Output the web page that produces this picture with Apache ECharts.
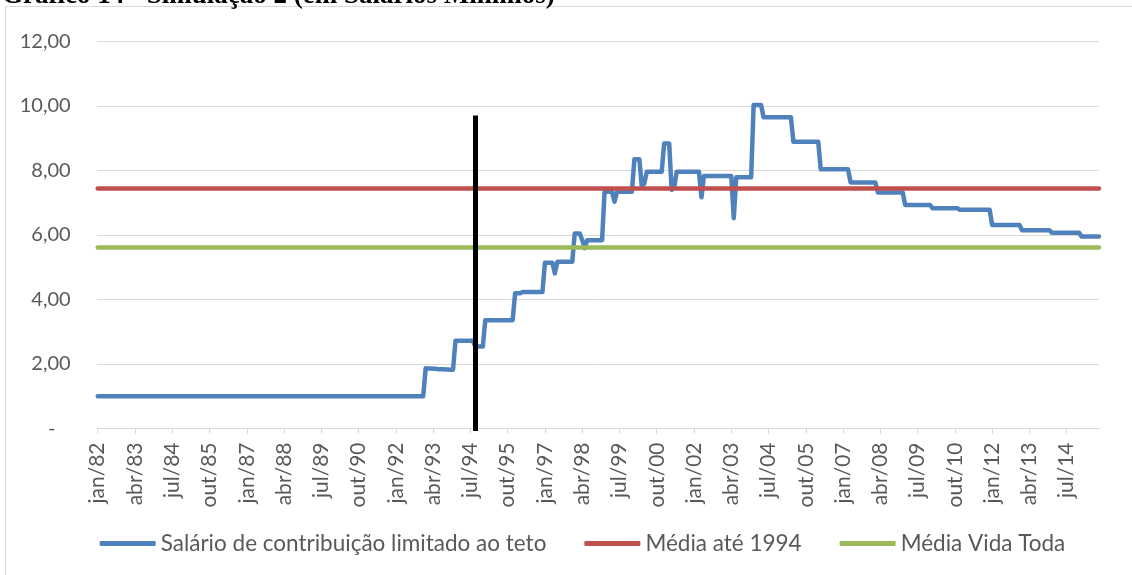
<!DOCTYPE html>
<html>
<head>
<meta charset="utf-8">
<title>Simulação 2</title>
<script src="https://cdn.jsdelivr.net/npm/echarts@6/dist/echarts.min.js"></script>
<style>
  html, body { margin: 0; padding: 0; background: #fff; }
  #chart { width: 1132px; height: 575px; }
</style>
</head>
<body>
<div id="chart"></div>
<script>
// meses jan/82 .. ago/15
const mesesNomes = ["jan", "fev", "mar", "abr", "mai", "jun", "jul", "ago", "set", "out", "nov", "dez"];
const anoInicio = 1982;
const anoFim = 2015;
const ultimoMesFim = 8;

// salário de contribuição limitado ao teto (em salários mínimos), um ano por linha
const s1982 = [1.00, 1.00, 1.00, 1.00, 1.00, 1.00, 1.00, 1.00, 1.00, 1.00, 1.00, 1.00];
const s1983 = [1.00, 1.00, 1.00, 1.00, 1.00, 1.00, 1.00, 1.00, 1.00, 1.00, 1.00, 1.00];
const s1984 = [1.00, 1.00, 1.00, 1.00, 1.00, 1.00, 1.00, 1.00, 1.00, 1.00, 1.00, 1.00];
const s1985 = [1.00, 1.00, 1.00, 1.00, 1.00, 1.00, 1.00, 1.00, 1.00, 1.00, 1.00, 1.00];
const s1986 = [1.00, 1.00, 1.00, 1.00, 1.00, 1.00, 1.00, 1.00, 1.00, 1.00, 1.00, 1.00];
const s1987 = [1.00, 1.00, 1.00, 1.00, 1.00, 1.00, 1.00, 1.00, 1.00, 1.00, 1.00, 1.00];
const s1988 = [1.00, 1.00, 1.00, 1.00, 1.00, 1.00, 1.00, 1.00, 1.00, 1.00, 1.00, 1.00];
const s1989 = [1.00, 1.00, 1.00, 1.00, 1.00, 1.00, 1.00, 1.00, 1.00, 1.00, 1.00, 1.00];
const s1990 = [1.00, 1.00, 1.00, 1.00, 1.00, 1.00, 1.00, 1.00, 1.00, 1.00, 1.00, 1.00];
const s1991 = [1.00, 1.00, 1.00, 1.00, 1.00, 1.00, 1.00, 1.00, 1.00, 1.00, 1.00, 1.00];
const s1992 = [1.00, 1.00, 1.00, 1.00, 1.00, 1.00, 1.00, 1.00, 1.00, 1.00, 1.00, 1.00];
const s1993 = [1.87, 1.86, 1.86, 1.85, 1.85, 1.84, 1.84, 1.84, 1.83, 1.83, 1.82, 1.82];
const s1994 = [2.72, 2.72, 2.72, 2.72, 2.72, 2.72, 2.72, 2.72, 2.54, 2.54, 2.54, 2.54];
const s1995 = [3.36, 3.36, 3.36, 3.36, 3.36, 3.36, 3.36, 3.36, 3.36, 3.36, 3.36, 3.36];
const s1996 = [4.19, 4.19, 4.19, 4.23, 4.23, 4.23, 4.23, 4.23, 4.23, 4.23, 4.23, 4.23];
const s1997 = [5.14, 5.14, 5.14, 5.14, 4.81, 5.17, 5.17, 5.17, 5.17, 5.17, 5.17, 5.17];
const s1998 = [6.05, 6.05, 6.05, 5.84, 5.59, 5.84, 5.84, 5.84, 5.84, 5.84, 5.84, 5.84];
const s1999 = [7.34, 7.34, 7.34, 7.34, 7.03, 7.34, 7.34, 7.34, 7.34, 7.34, 7.34, 7.34];
const s2000 = [8.35, 8.35, 8.35, 7.50, 7.60, 7.96, 7.96, 7.96, 7.96, 7.96, 7.96, 7.96];
const s2001 = [8.84, 8.84, 8.84, 7.40, 7.45, 7.96, 7.96, 7.96, 7.96, 7.96, 7.96, 7.96];
const s2002 = [7.96, 7.96, 7.96, 7.17, 7.83, 7.83, 7.83, 7.83, 7.83, 7.83, 7.83, 7.83];
const s2003 = [7.83, 7.83, 7.83, 7.83, 6.52, 7.79, 7.79, 7.79, 7.79, 7.79, 7.79, 7.79];
const s2004 = [10.03, 10.03, 10.03, 10.03, 9.65, 9.65, 9.65, 9.65, 9.65, 9.65, 9.65, 9.65];
const s2005 = [9.65, 9.65, 9.65, 9.65, 8.89, 8.89, 8.89, 8.89, 8.89, 8.89, 8.89, 8.89];
const s2006 = [8.89, 8.89, 8.89, 8.04, 8.04, 8.04, 8.04, 8.04, 8.04, 8.04, 8.04, 8.04];
const s2007 = [8.04, 8.04, 8.04, 7.63, 7.63, 7.63, 7.63, 7.63, 7.63, 7.63, 7.63, 7.63];
const s2008 = [7.63, 7.63, 7.32, 7.32, 7.32, 7.32, 7.32, 7.32, 7.32, 7.32, 7.32, 7.32];
const s2009 = [7.32, 6.93, 6.93, 6.93, 6.93, 6.93, 6.93, 6.93, 6.93, 6.93, 6.93, 6.93];
const s2010 = [6.83, 6.83, 6.83, 6.83, 6.83, 6.83, 6.83, 6.83, 6.83, 6.83, 6.83, 6.78];
const s2011 = [6.78, 6.78, 6.78, 6.78, 6.78, 6.78, 6.78, 6.78, 6.78, 6.78, 6.78, 6.78];
const s2012 = [6.31, 6.31, 6.31, 6.31, 6.31, 6.31, 6.31, 6.31, 6.31, 6.31, 6.31, 6.31];
const s2013 = [6.15, 6.15, 6.15, 6.15, 6.15, 6.15, 6.15, 6.15, 6.15, 6.15, 6.15, 6.15];
const s2014 = [6.07, 6.07, 6.07, 6.07, 6.07, 6.07, 6.07, 6.07, 6.07, 6.07, 6.07, 6.07];
const s2015 = [5.95, 5.95, 5.95, 5.95, 5.95, 5.95, 5.95, 5.95];

// médias (linhas horizontais)
const mediaAte1994 = 7.44;
const mediaVidaToda = 5.63;

// marco vertical (plano real, 1994)
const marcoIndice = 152;
const marcoTopo = 9.63;
const marcoBase = 0;

const yTicks = [0, 2, 4, 6, 8, 10, 12];

const salarioTeto = [].concat(
  s1982, s1983, s1984, s1985, s1986, s1987, s1988, s1989, s1990, s1991, s1992,
  s1993, s1994, s1995, s1996, s1997, s1998, s1999, s2000, s2001, s2002, s2003,
  s2004, s2005, s2006, s2007, s2008, s2009, s2010, s2011, s2012, s2013, s2014, s2015
);

let meses = [];
for (let a = anoInicio; a <= anoFim; a++) {
  let n = a === anoFim ? ultimoMesFim : 12;
  for (let m = 0; m < n; m++) {
    meses.push(mesesNomes[m] + "/" + String(a).slice(2));
  }
}

const fonte = "Lato";
const cinza = "#595959";
const grade = "#D9D9D9";

var myChart = echarts.init(document.getElementById("chart"), null, { renderer: "canvas" });

let option = {
  animation: false,
  backgroundColor: "#fff",
  textStyle: { fontFamily: fonte },
  graphic: [
    {
      type: "rect",
      silent: true,
      shape: { x: 5.5, y: 6.5, width: 1300, height: 800 },
      style: { fill: "none", stroke: grade, lineWidth: 1 }
    },
    {
      // título cortado no topo, como no original
      type: "text",
      silent: true,
      x: 2,
      y: 9.5,
      style: {
        text: "Gráfico 14 - Simulação 2 (em Salários Mínimos)",
        font: "bold 27px 'Liberation Serif'",
        fill: "#000",
        verticalAlign: "bottom"
      }
    }
  ],
  grid: {
    left: 97.7,
    right: 33,
    top: 41.5,
    bottom: 146.5
  },
  legend: {
    data: ["Salário de contribuição limitado ao teto", "Média até 1994", "Média Vida Toda"],
    left: 94.7,
    top: 527,
    icon: "roundRect",
    itemWidth: 56,
    itemHeight: 5,
    itemGap: 38,
    textStyle: {
      fontFamily: fonte,
      fontSize: 22.5,
      color: cinza
    }
  },
  xAxis: {
    type: "category",
    data: meses,
    boundaryGap: false,
    axisLine: { show: true, lineStyle: { color: grade, width: 1 } },
    axisTick: { show: true, interval: 14, length: 5, lineStyle: { color: grade } },
    splitLine: { show: false },
    axisLabel: {
      interval: 14,
      rotate: 90,
      margin: 14,
      fontSize: 21,
      color: cinza,
      fontFamily: fonte
    }
  },
  yAxis: {
    type: "value",
    min: yTicks[0],
    max: yTicks[yTicks.length - 1],
    interval: 2,
    axisLine: { show: false },
    axisTick: { show: false },
    splitLine: { show: true, lineStyle: { color: grade, width: 1 } },
    axisLabel: {
      margin: 27,
      fontSize: 20,
      color: cinza,
      fontFamily: fonte,
      formatter: function (v) {
        if (v === 0) return "-   ";
        return v.toFixed(2).replace(".", ",");
      }
    }
  },
  series: [
    {
      name: "Salário de contribuição limitado ao teto",
      type: "line",
      data: salarioTeto,
      showSymbol: false,
      symbol: "none",
      itemStyle: { color: "#4F81BD" },
      lineStyle: { color: "#4F81BD", width: 4.5, cap: "round", join: "round" },
      z: 2
    },
    {
      name: "Média até 1994",
      type: "line",
      data: [],
      itemStyle: { color: "#C0504D" },
      z: 3,
      markLine: {
        silent: true,
        symbol: ["none", "none"],
        label: { show: false },
        lineStyle: { color: "#C0504D", width: 4.5, type: "solid", cap: "round" },
        data: [{ yAxis: mediaAte1994 }]
      }
    },
    {
      name: "Média Vida Toda",
      type: "line",
      data: [],
      itemStyle: { color: "#9BBB59" },
      z: 4,
      markLine: {
        silent: true,
        symbol: ["none", "none"],
        label: { show: false },
        lineStyle: { color: "#9BBB59", width: 4.5, type: "solid", cap: "round" },
        data: [{ yAxis: mediaVidaToda }]
      }
    },
    {
      name: "marco",
      type: "line",
      data: [],
      z: 5,
      markLine: {
        silent: true,
        symbol: ["none", "none"],
        label: { show: false },
        lineStyle: { color: "#000", width: 5, type: "solid", cap: "square" },
        data: [[
          { coord: [marcoIndice, marcoTopo] },
          { coord: [marcoIndice, marcoBase] }
        ]]
      }
    }
  ]
};

myChart.setOption(option);
</script>
</body>
</html>
